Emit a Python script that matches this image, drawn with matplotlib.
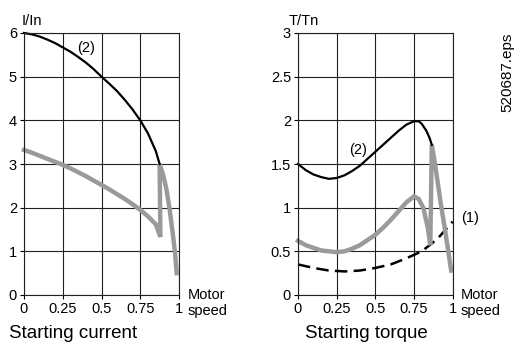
import matplotlib
matplotlib.use('Agg')
import matplotlib.pyplot as plt

plt.rcParams['font.family'] = ['Liberation Sans', 'DejaVu Sans']

# Starting current: direct-on-line (2) and soft start (grey)
cur_x_2 = [0, 0.05, 0.1, 0.15, 0.2, 0.25, 0.3, 0.35, 0.4, 0.45, 0.5, 0.55,
           0.6, 0.65, 0.7, 0.75, 0.8, 0.85, 0.875]
cur_y_2 = [6.0, 5.97, 5.92, 5.85, 5.77, 5.67, 5.57, 5.45, 5.32, 5.17, 5.0, 4.84,
           4.67, 4.47, 4.25, 4.0, 3.7, 3.3, 3.0]
cur_x_s = [0, 0.05, 0.1, 0.15, 0.2, 0.25, 0.3, 0.35, 0.4, 0.45, 0.5, 0.55,
           0.6, 0.65, 0.7, 0.75, 0.8, 0.85, 0.88, 0.875, 0.9, 0.92, 0.94,
           0.96, 0.975, 0.985]
cur_y_s = [3.32, 3.26, 3.19, 3.12, 3.05, 2.98, 2.9, 2.81, 2.72, 2.62, 2.52, 2.42,
           2.31, 2.2, 2.08, 1.95, 1.8, 1.62, 1.33, 3.0, 2.72, 2.4, 1.95,
           1.4, 0.95, 0.5]

# Starting torque: direct-on-line (2), soft start (grey), load (1)
trq_x_2 = [0, 0.05, 0.1, 0.15, 0.2, 0.25, 0.3, 0.35, 0.4, 0.45, 0.5, 0.55,
           0.6, 0.65, 0.7, 0.75, 0.78, 0.8, 0.83, 0.85, 0.865]
trq_y_2 = [1.5, 1.43, 1.38, 1.35, 1.33, 1.34, 1.37, 1.42, 1.48, 1.56, 1.64, 1.72,
           1.8, 1.88, 1.95, 1.99, 1.99, 1.96, 1.88, 1.8, 1.72]
trq_x_s = [0, 0.05, 0.1, 0.15, 0.2, 0.25, 0.3, 0.35, 0.4, 0.45, 0.5, 0.55,
           0.6, 0.65, 0.7, 0.75, 0.78, 0.81, 0.84, 0.855, 0.865, 0.89, 0.92,
           0.95, 0.97, 0.99]
trq_y_s = [0.62, 0.57, 0.54, 0.51, 0.5, 0.49, 0.5, 0.53, 0.57, 0.63, 0.69, 0.77,
           0.86, 0.96, 1.06, 1.13, 1.1, 1.0, 0.76, 0.57, 1.72, 1.45, 1.08,
           0.75, 0.52, 0.28]
load_x = [0, 0.1, 0.2, 0.3, 0.4, 0.5, 0.6, 0.7, 0.8, 0.9, 1.0]
load_y = [0.35, 0.31, 0.28, 0.27, 0.28, 0.31, 0.35, 0.42, 0.5, 0.64, 0.84]

x_ticks = [0, 0.25, 0.5, 0.75, 1]
x_labels = ['0', '0.25', '0.5', '0.75', '1']
cur_ticks = [0, 1, 2, 3, 4, 5, 6]
trq_ticks = [0, 0.5, 1, 1.5, 2, 2.5, 3]
trq_labels = ['0', '0.5', '1', '1.5', '2', '2.5', '3']

W, H = 514, 344
fig = plt.figure(figsize=(W / 100, H / 100), dpi=100)

def make_axes(x0, x1):
    ax = fig.add_axes([x0 / W, (H - 295) / H, (x1 - x0) / W, 262 / H])
    ax.set_xlim(0, 1)
    ax.set_xticks(x_ticks)
    ax.set_xticklabels(x_labels)
    ax.grid(True, color='#222222', linewidth=0.8)
    ax.set_axisbelow(True)
    for s in ax.spines.values():
        s.set_linewidth(0.8)
        s.set_color('#222222')
    ax.tick_params(direction='out', length=3, width=0.8, labelsize=10.5, pad=2)
    return ax

grey = '#9a9a9a'

ax1 = make_axes(24, 179)
ax1.set_ylim(0, 6)
ax1.set_yticks(cur_ticks)
ax1.plot(cur_x_s, cur_y_s, color=grey, lw=3.2, solid_joinstyle='miter', clip_on=False)
ax1.plot(cur_x_2, cur_y_2, color='black', lw=1.6, clip_on=False)
ax1.text(0.40, 5.66, '(2)', fontsize=10.5, ha='center', va='center')

ax2 = make_axes(298, 452.7)
ax2.set_ylim(0, 3)
ax2.set_yticks(trq_ticks)
ax2.set_yticklabels(trq_labels)
ax2.plot(load_x, load_y, color='black', lw=1.8, dashes=(5, 2.5), clip_on=False)
ax2.plot(trq_x_s, trq_y_s, color=grey, lw=3.2, solid_joinstyle='miter', clip_on=False)
ax2.plot(trq_x_2, trq_y_2, color='black', lw=1.6, clip_on=False)
ax2.text(0.39, 1.66, '(2)', fontsize=10.5, ha='center', va='center')
ax2.text(1.055, 0.88, '(1)', fontsize=10.5, ha='left', va='center')

fig.text(22 / W, 1 - 21 / H, 'I/In', fontsize=10.5, ha='left', va='center')
fig.text(289 / W, 1 - 21 / H, 'T/Tn', fontsize=10.5, ha='left', va='center')
for xm in (188, 461):
    fig.text(xm / W, 1 - 295 / H, 'Motor', fontsize=10.5, ha='left', va='center')
    fig.text(xm / W, 1 - 311 / H, 'speed', fontsize=10.5, ha='left', va='center')
fig.text(9 / W, 1 - 333 / H, 'Starting current', fontsize=13.5, ha='left', va='center')
fig.text(366 / W, 1 - 333 / H, 'Starting torque', fontsize=13.5, ha='center', va='center')
fig.text(507 / W, 1 - 72 / H, '520687.eps', fontsize=11, rotation=90,
         ha='center', va='center')

fig.savefig('out.png', dpi=100)
